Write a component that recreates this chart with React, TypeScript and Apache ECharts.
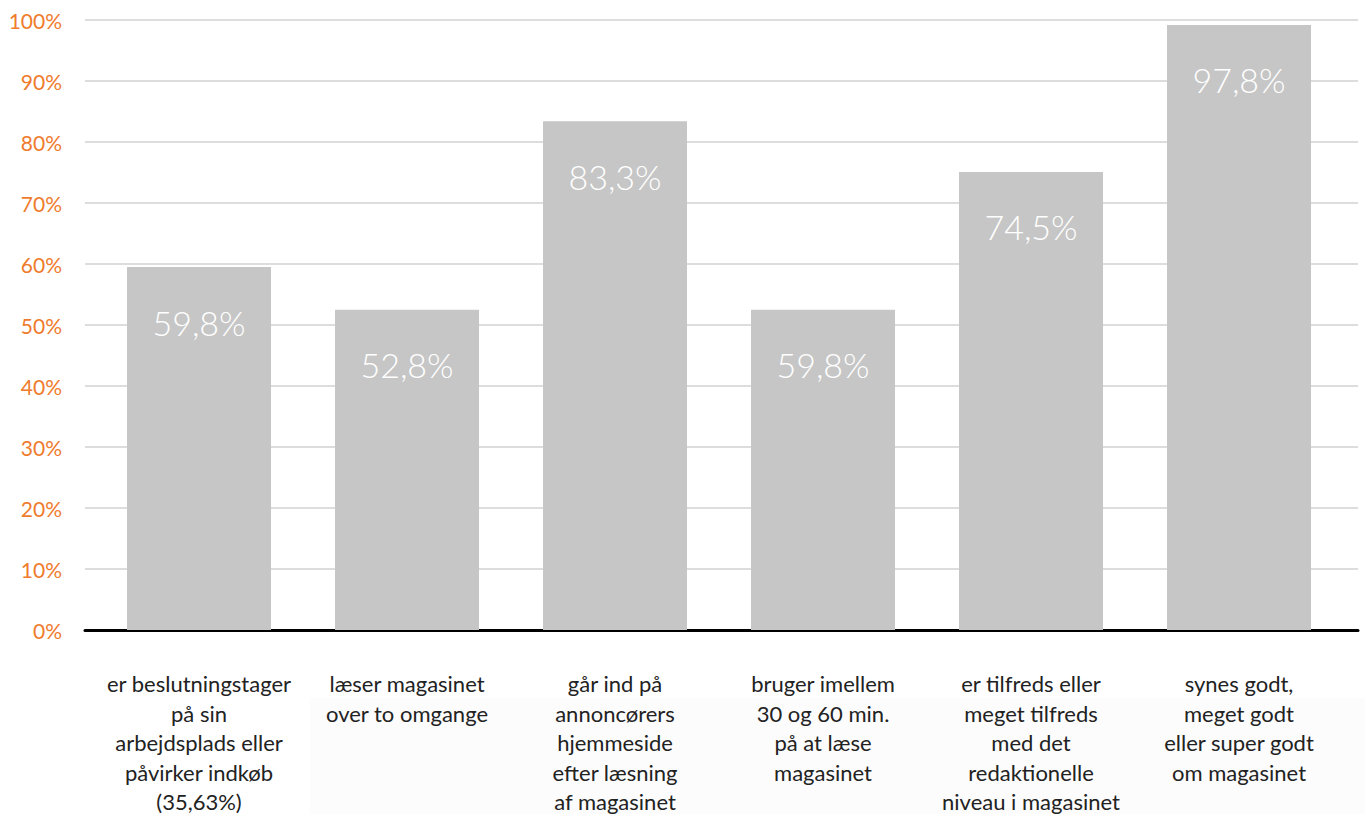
import React, { useEffect, useRef } from "react";
import * as echarts from "echarts";

const categories = [
  "er beslutningstager\npå sin\narbejdsplads eller\npåvirker indkøb\n(35,63%)",
  "læser magasinet\nover to omgange",
  "går ind på\nannoncørers\nhjemmeside\nefter læsning\naf magasinet",
  "bruger imellem\n30 og 60 min.\npå at læse\nmagasinet",
  "er tilfreds eller\nmeget tilfreds\nmed det\nredaktionelle\nniveau i magasinet",
  "synes godt,\nmeget godt\neller super godt\nom magasinet",
];
const barValues = [59.5, 52.5, 83.4, 52.5, 75.1, 99.2];
const barLabels = ["59,8%", "52,8%", "83,3%", "59,8%", "74,5%", "97,8%"];
const yTicks = [0, 10, 20, 30, 40, 50, 60, 70, 80, 90, 100];

const FONT = "Lato, 'Open Sans', sans-serif";

export default function App() {
  const ref = useRef<HTMLDivElement>(null);
  useEffect(() => {
    if (!ref.current) return;
    const chart = echarts.init(ref.current, undefined, { renderer: "svg" });
    chart.setOption({
      animation: false,
      backgroundColor: "#ffffff",
      graphic: [
        {
          type: "rect",
          z: -10,
          silent: true,
          shape: { x: 310, y: 698, width: 1055, height: 116 },
          style: { fill: "#fcfcfc" },
        },
      ],
      grid: [
        { left: 85, right: 7, top: 20, bottom: 184, outerBoundsMode: "none" },
        { left: 95, right: 22, top: 20, bottom: 184, outerBoundsMode: "none" },
      ],
      xAxis: [
        {
          gridIndex: 0,
          type: "category",
          data: categories.map((_, i) => String(i)),
          axisLine: { show: true, lineStyle: { color: "#000000", width: 3 } },
          axisTick: { show: false },
          axisLabel: { show: false },
          splitLine: { show: false },
        },
        {
          gridIndex: 1,
          type: "category",
          data: categories,
          axisLine: { show: false },
          axisTick: { show: false },
          axisLabel: {
            interval: 0,
            margin: 39,
            color: "#222222",
            fontFamily: FONT,
            fontSize: 22,
            lineHeight: 29.5,
            verticalAlign: "top",
          },
        },
      ],
      yAxis: [
        {
          gridIndex: 0,
          type: "value",
          min: 0,
          max: 100,
          interval: 10,
          axisLine: { show: false },
          axisTick: { show: false },
          axisLabel: {
            margin: 23,
            color: "#ef7b2d",
            fontFamily: FONT,
            fontSize: 21,
            formatter: (v: number) => (yTicks.includes(v) ? v + "%" : ""),
          },
          splitLine: { show: true, lineStyle: { color: "#d2d2d2", width: 1.5 } },
        },
        {
          gridIndex: 1,
          type: "value",
          min: 0,
          max: 100,
          interval: 10,
          axisLine: { show: false },
          axisTick: { show: false },
          axisLabel: { show: false },
          splitLine: { show: false },
        },
      ],
      series: [
        {
          type: "bar",
          xAxisIndex: 1,
          yAxisIndex: 1,
          data: barValues,
          barWidth: 144,
          itemStyle: { color: "#c6c6c6" },
          z: 3,
          label: {
            show: true,
            position: "insideTop",
            distance: 38,
            color: "#ffffff",
            fontFamily: FONT,
            fontWeight: 300,
            fontSize: 34,
            formatter: (p: any) => barLabels[p.dataIndex],
          },
        },
      ],
    });
    return () => chart.dispose();
  }, []);
  return (
    <div
      ref={ref}
      style={{ position: "fixed", left: 0, top: 0, width: 1365, height: 814 }}
    />
  );
}
